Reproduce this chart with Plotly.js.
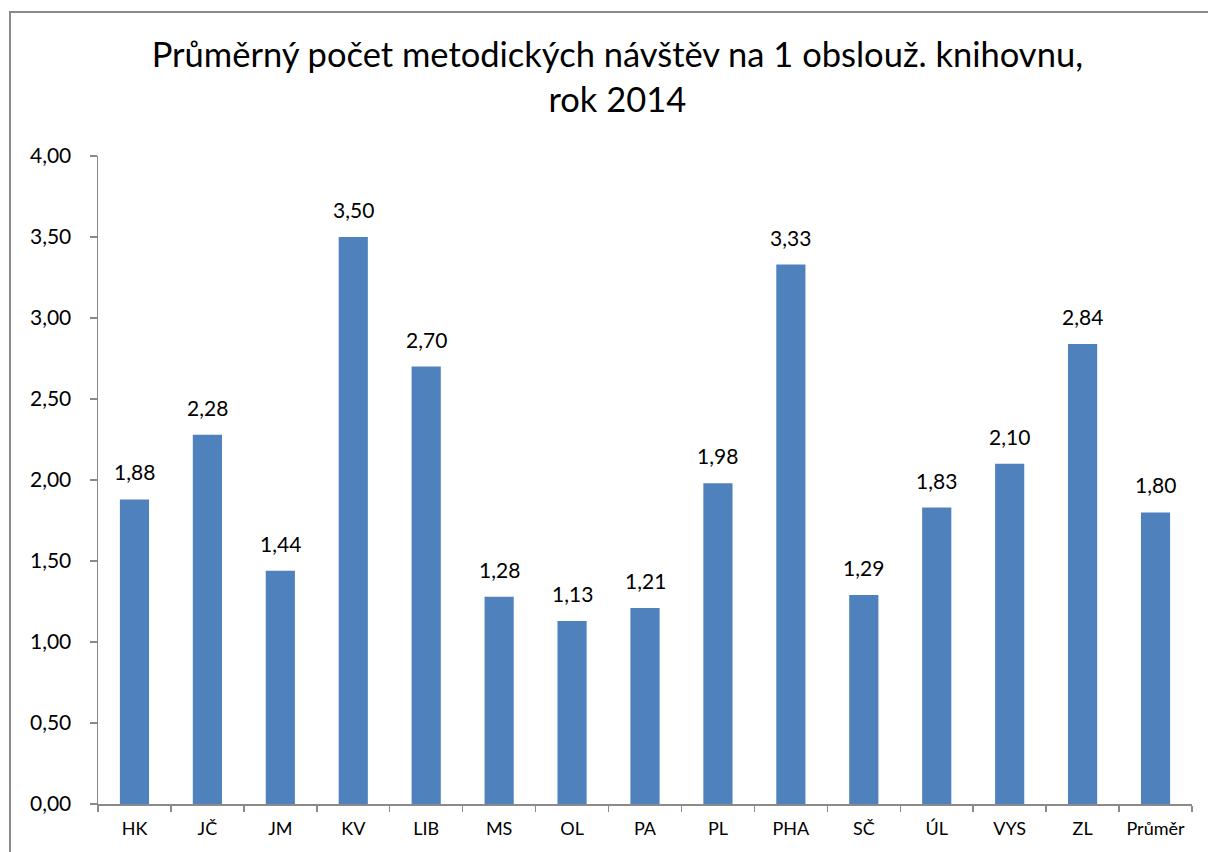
<!DOCTYPE html>
<html>
<head>
<meta charset="utf-8">
<script src="https://cdn.plot.ly/plotly-3.0.1.min.js"></script>
<style>
html,body{margin:0;padding:0;overflow:hidden;background:#fff;width:1208px;height:852px;}
#chart{position:absolute;left:9px;top:11px;width:1220px;height:860px;border-left:2px solid #8a8a8a;border-top:2px solid #8a8a8a;}
</style>
</head>
<body>
<div id="chart"></div>
<script>
const categories = ["HK","JČ","JM","KV","LIB","MS","OL","PA","PL","PHA","SČ","ÚL","VYS","ZL","Průměr"];
const values = [1.88,2.28,1.44,3.50,2.70,1.28,1.13,1.21,1.98,3.33,1.29,1.83,2.10,2.84,1.80];
const labels = values.map(v => v.toFixed(2).replace('.', ','));
const font = "Lato, 'Open Sans', sans-serif";

const annotations = categories.map((c, i) => ({
  x: c, y: values[i], xref: 'x', yref: 'y',
  text: labels[i], showarrow: false,
  xanchor: 'center', yanchor: 'bottom', yshift: 13,
  font: {family: font, size: 21, color: '#000'}
}));

Plotly.newPlot('chart', [{
  type: 'bar',
  x: categories,
  y: values,
  marker: {color: '#4F81BD'},
  hoverinfo: 'x+y'
}], {
  width: 1220, height: 860,
  margin: {l: 87, r: 39, t: 143, b: 69},
  paper_bgcolor: '#fff', plot_bgcolor: '#fff',
  separators: ',.',
  bargap: 0.6,
  showlegend: false,
  annotations: annotations,
  title: {
    text: 'Průměrný počet metodických návštěv na 1 obslouž. knihovnu,<br>rok 2014',
    font: {family: font, size: 34.5, color: '#000'},
    x: 0.497, xref: 'container', xanchor: 'center',
    y: 0.937, yref: 'container', yanchor: 'top'
  },
  xaxis: {
    type: 'category',
    tickson: 'boundaries',
    ticks: 'outside', ticklen: 6, tickcolor: '#8a8a8a', tickwidth: 1.5,
    showline: true, linecolor: '#8a8a8a', linewidth: 1.5,
    showgrid: false, zeroline: false,
    ticklabelstandoff: 8,
    tickfont: {family: font, size: 18, color: '#000'},
    fixedrange: true
  },
  yaxis: {
    range: [0, 4], dtick: 0.5, tick0: 0,
    tickformat: '.2f',
    ticks: 'outside', ticklen: 7, tickcolor: '#8a8a8a', tickwidth: 1.5,
    showline: true, linecolor: '#8a8a8a', linewidth: 1.5,
    showgrid: false, zeroline: false,
    ticklabelstandoff: 14,
    tickfont: {family: font, size: 21, color: '#000'},
    fixedrange: true
  }
}, {displayModeBar: false, staticPlot: true});
</script>
</body>
</html>
